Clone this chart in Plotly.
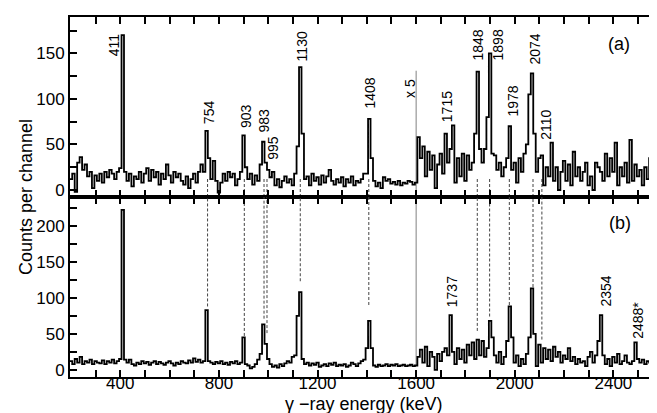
import plotly.graph_objects as go
from plotly.subplots import make_subplots

# ---------------- data ----------------
bin_start = 195          # keV, left edge of first channel
bin_width = 10           # keV per channel

# panel (a): counts per channel, channels starting at 195 keV
counts_a = [
    12, 18, -2, 30, 36, 22, 28, 15, 20, 2,
    16, 10, 18, 8, 20, 14, 22, 18, 12, 20,
    24, 170, 20, 10, 18, 4, 15, 12, 20, 8,
    18, 24, 10, 22, 14, 20, 6, 18, 12, 28,
    16, 8, 20, 14, 18, 10, 6, 15, 2, 12,
    18, 8, 20, 28, 20, 65, 35, 12, 32, 10,
    -3, 8, 18, 10, 20, 14, 18, 5, 12, 20,
    60, 25, 12, 18, 6, 16, 10, 28, 53, 30,
    22, 14, 20, 5, 12, 3, 10, 15, 8, 12,
    5, 18, 48, 135, 62, 12, 15, 5, 18, 10,
    14, 6, 16, 8, 15, 22, 10, 6, 12, 8,
    14, 4, 12, 8, 15, 5, 10, 8, 12, 18,
    18, 78, 35, 10, 4, 8, 2, 14, 10, 12,
    7, 9, 6, 10, 5, 8, 7, 10, 9, 6,
    8, 58, 35, 48, 15, 42, 22, 38, 2, 28,
    40, 18, 62, 30, 45, 71, 8, 35, 15, 40,
    10, 38, 22, 30, 62, 130, 45, 30, 45, 80,
    150, 40, 38, 22, 30, 15, 25, 35, 70, 22,
    30, 8, 35, 20, 40, 50, 105, 128, 62, 20,
    35, 38, 5, 25, 15, 52, 10, 25, 0, 20,
    32, 10, 28, 5, 42, 15, 25, 10, 20, 30,
    5, 15, 0, 30, 25, 20, 10, 40, 15, 35,
    20, 52, 5, 25, 15, 30, 8, 55, 10, 28,
    15, 22, 5, 25, 12, 35, 20, 58, 20, 25,
]

# panel (b)
counts_b = [
    12, 8, 15, 10, 18, 8, 12, 10, 14, 8,
    12, 10, 9, 13, 8, 12, 10, 14, 9, 12,
    15, 222, 14, 10, 14, 8, 6, 10, 8, 12,
    9, 11, 7, 10, 12, 8, 11, 9, 7, 10,
    12, 9, 6, 10, 8, 12, 10, 9, 13, 10,
    16, 11, 14, 10, 12, 83, 12, 10, 8, 11,
    9, 12, 8, 10, 7, 11, 9, 12, 8, 10,
    45, 8, 6, 2, 4, 8, 14, 22, 63, 36,
    15, 8, 4, 6, 3, 8, 5, 9, 12, 10,
    18, 20, 75, 108, 15, 8, 10, 6, 9, 7,
    10, 4, 6, 8, 5, 9, 7, 10, 5, 7,
    6, 8, 4, 6, 10, 8, 5, 9, 12, 14,
    30, 68, 30, 6, 4, 7, 5, 6, 8, 5,
    7, 6, 8, 5, 6, 7, 5, 6, 7, 5,
    6, 18, 28, 10, 32, 5, 25, 18, 0, 22,
    12, 25, 30, 20, 76, 25, 8, 30, 15, 28,
    10, 35, 20, 38, 15, 42, 20, 40, 18, 30,
    68, 45, 20, 10, 25, 8, 18, 40, 88, 45,
    10, 20, 5, 15, 8, 22, 45, 113, 50, 5,
    35, 10, 30, 15, 28, 12, 32, 18, 25, 10,
    20, 15, 30, 12, 18, 8, 15, 10, 12, 5,
    18, 25, 10, 20, 40, 76, 20, 8, 15, 5,
    18, 10, 22, 8, 12, 20, 10, 8, 12, 38,
    15, 10, 14, 8, 12, 10, 13, 8, 12, 10,
]

# peak labels panel (a): text, energy position, count position
labels_a = ["411", "754", "903", "983", "995", "1130", "1408", "x 5",
            "1715", "1848", "1898", "1978", "2074", "2110"]
labels_a_x = [374, 758, 909, 982, 1018, 1138, 1413, 1575,
              1725, 1852, 1933, 1992, 2081, 2128]
labels_a_y = [160, 85, 81, 76, 46, 158, 106, 112,
              92, 159, 159, 98, 155, 72]

labels_b = ["1737", "2354", "2488*"]
labels_b_x = [1745, 2370, 2500]
labels_b_y = [109, 110, 68]

# coincidence lines (keV) and where they stop above the peaks in (b)
gate_E = [754, 903, 983, 995, 1130, 1408, 1848, 1898, 1978, 2074, 2110]
gate_end_b = [88, 47, 71, 51, 123, 90, 54, 74, 90, 115, 42]
scale_change = 1600

x_range = [196, 2581]
ya_range = [-7.7, 190]
yb_range = [-10, 240]

# ---------------- figure ----------------
FONT = "Liberation Sans, Arial, Helvetica, sans-serif"

def edges(vals):
    xs = [bin_start + bin_width * i for i in range(len(vals))]
    xs.append(xs[-1] + bin_width)
    return xs, list(vals) + [vals[-1]]

fig = make_subplots(rows=2, cols=1, shared_xaxes=True, vertical_spacing=0)

for row, vals in ((1, counts_a), (2, counts_b)):
    xs, ys = edges(vals)
    fig.add_trace(go.Scatter(x=xs, y=ys, mode="lines", line_shape="hv",
                             line=dict(color="black", width=1.8),
                             showlegend=False, hoverinfo="skip"),
                  row=row, col=1)

shapes = []
dash_style = dict(color="#444444", width=1, dash="3px,2px")
for e, yend in zip(gate_E, gate_end_b):
    shapes.append(dict(type="line", xref="x", yref="y", x0=e, x1=e,
                       y0=ya_range[0], y1=14, line=dash_style, layer="below"))
    shapes.append(dict(type="line", xref="x2", yref="y2", x0=e, x1=e,
                       y0=yend, y1=yb_range[1], line=dash_style, layer="below"))
shapes.append(dict(type="line", xref="x", yref="y", x0=scale_change, x1=scale_change,
                   y0=ya_range[0], y1=131, line=dict(color="#808080", width=1),
                   layer="below"))
shapes.append(dict(type="line", xref="x2", yref="y2", x0=scale_change, x1=scale_change,
                   y0=5, y1=yb_range[1], line=dict(color="#808080", width=1),
                   layer="below"))

annotations = []
for t, x, y in zip(labels_a, labels_a_x, labels_a_y):
    annotations.append(dict(text=t, x=x, y=y, xref="x", yref="y", showarrow=False,
                            textangle=-90, xanchor="center", yanchor="middle",
                            font=dict(family=FONT, size=14, color="black")))
for t, x, y in zip(labels_b, labels_b_x, labels_b_y):
    annotations.append(dict(text=t, x=x, y=y, xref="x2", yref="y2", showarrow=False,
                            textangle=-90, xanchor="center", yanchor="middle",
                            font=dict(family=FONT, size=14, color="black")))
annotations.append(dict(text="(a)", x=2423, y=160, xref="x", yref="y", showarrow=False,
                        xanchor="center", yanchor="middle",
                        font=dict(family=FONT, size=18, color="black")))
annotations.append(dict(text="(b)", x=2427, y=204, xref="x2", yref="y2", showarrow=False,
                        xanchor="center", yanchor="middle",
                        font=dict(family=FONT, size=18, color="black")))
annotations.append(dict(text="Counts per channel", x=0, y=0.5, xref="paper", yref="paper",
                        xshift=-44, textangle=-90, showarrow=False,
                        xanchor="center", yanchor="middle",
                        font=dict(family=FONT, size=18, color="black")))
annotations.append(dict(text="γ −ray energy (keV)", x=0.5, y=0, xref="paper", yref="paper",
                        yshift=-27, showarrow=False, xanchor="center", yanchor="middle",
                        font=dict(family=FONT, size=18, color="black")))

axis_common = dict(showline=True, linewidth=2, linecolor="black", mirror="ticks",
                   ticks="inside", ticklen=7, tickwidth=1.5, tickcolor="black",
                   showgrid=False, zeroline=False,
                   tickfont=dict(family=FONT, size=17, color="black"))

fig.update_xaxes(range=x_range, tick0=0, dtick=400, ticklabelstandoff=-10,
                 minor=dict(dtick=100, ticks="inside", ticklen=7, tickwidth=1.5,
                            tickcolor="black", showgrid=False),
                 **axis_common)
fig.update_xaxes(showticklabels=False, row=1, col=1)
fig.update_yaxes(minor=dict(dtick=25, ticks="inside", ticklen=7, tickwidth=1.5,
                            tickcolor="black", showgrid=False),
                 dtick=50, tick0=0, **axis_common)
fig.update_yaxes(range=ya_range, row=1, col=1)
fig.update_yaxes(range=yb_range, row=2, col=1)

fig.update_layout(width=657, height=413,
                  margin=dict(l=62, r=5, t=9, b=44),
                  paper_bgcolor="white", plot_bgcolor="white",
                  shapes=shapes, annotations=annotations,
                  font=dict(family=FONT, color="black"))

fig.write_html("out.html")
